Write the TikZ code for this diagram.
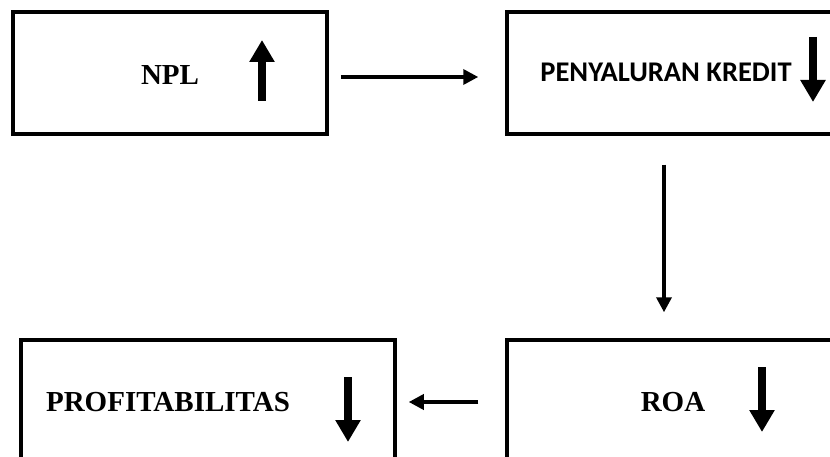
\documentclass[tikz,border=0pt]{standalone}
\usepackage{fontspec}
\setmainfont{Liberation Serif}
\newfontfamily\carlito{Carlito}
\usetikzlibrary{arrows.meta}
\begin{document}
\begin{tikzpicture}[x=1pt,y=-1pt,
  boxst/.style={draw, line width=3.5pt, inner sep=0pt, anchor=center},
  serifst/.style={font=\fontsize{29}{34}\selectfont\bfseries, inner sep=0pt, anchor=base},
  sansst/.style={font=\fontsize{28.5}{34}\selectfont\carlito\bfseries, inner sep=0pt, anchor=base},
  conn/.style={line width=3.5pt, -{Triangle[width=15pt,length=15pt]}},
  bigarrow/.style={line width=8pt, -{Triangle[width=24pt,length=22pt]}}]
\useasboundingbox (0,0) rectangle (830,457);
\clip (0,0) rectangle (830,457);
% boxes
\node[boxst, minimum width=314pt, minimum height=122pt] (npl) at (170,73) {};
\node[boxst, minimum width=343pt, minimum height=122pt] (pk) at (678.5,73) {};
\node[boxst, minimum width=374pt, minimum height=140pt] (pf) at (208,410) {};
\node[boxst, minimum width=343pt, minimum height=140pt] (roa) at (678.5,410) {};
% texts
\node[serifst] (tnpl) at (170,85) {NPL};
\node[sansst] (tpk) at (666,81.7) {PENYALURAN KREDIT};
\node[serifst] (tpf) at (168,411.7) {PROFITABILITAS};
\node[serifst] (troa) at (673,411.7) {ROA};
% trend arrows
\draw[bigarrow] (262,101) -- (262,40);
\draw[bigarrow] (813,37) -- (813,102);
\draw[bigarrow] (348,377) -- (348,442);
\draw[bigarrow] (762,367) -- (762,432);
% connectors
\draw[conn, shorten <=12pt, shorten >=27pt] ([yshift=-4pt]npl.east) -- ([yshift=-4pt]pk.west);
\draw[conn, shorten <=29pt, shorten >=26pt] ([xshift=-14.5pt]pk.south) -- ([xshift=-14.5pt]roa.north);
\draw[conn, shorten <=27pt, shorten >=12pt] ([yshift=8pt]roa.west) -- ([yshift=8pt]pf.east);
\end{tikzpicture}
\end{document}
